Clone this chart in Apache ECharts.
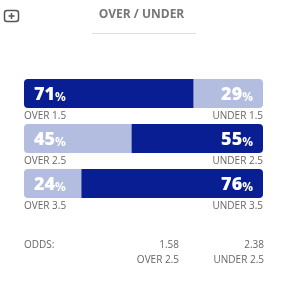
<!DOCTYPE html>
<html>
<head>
<meta charset="utf-8">
<script src="https://cdn.jsdelivr.net/npm/echarts@6/dist/echarts.min.js"></script>
<style>
html,body{margin:0;padding:0;background:#fff;}
#c{width:283px;height:288px;}
</style>
</head>
<body>
<div id="c"></div>
<script>
const categories = ['1.5', '2.5', '3.5'];
const overValues = [71, 45, 24];
const underValues = [29, 55, 76];
const overLabels = ['OVER 1.5', 'OVER 2.5', 'OVER 3.5'];
const underLabels = ['UNDER 1.5', 'UNDER 2.5', 'UNDER 3.5'];
const oddsValues = ['1.58', '2.38'];
const oddsLabels = ['OVER 2.5', 'UNDER 2.5'];

const DARK = '#0a1e93';
const LIGHT = '#b2bddf';
const FONT = '"Open Sans", sans-serif';

const chart = echarts.init(document.getElementById('c'), null, {renderer: 'canvas'});

function pctRich() {
  return {
    v: {fontSize: 18, fontWeight: 800, color: '#fff', fontFamily: FONT, lineHeight: 20, verticalAlign: 'bottom'},
    p: {fontSize: 12, fontWeight: 700, color: '#fff', fontFamily: FONT, lineHeight: 17, verticalAlign: 'bottom'}
  };
}

function colorFor(a, b) { return a > b ? DARK : LIGHT; }

const option = {
  animation: false,
  grid: {left: 24, right: 20, top: 71, bottom: 82},
  xAxis: {type: 'value', min: 0, max: 100, show: false},
  yAxis: {type: 'category', data: categories, inverse: true, show: false},
  series: [
    {
      type: 'bar', stack: 'ou', barWidth: 29,
      data: overValues.map((v, i) => ({
        value: v,
        itemStyle: {color: colorFor(v, underValues[i]), borderRadius: [4, 0, 0, 4]}
      })),
      label: {
        show: true, position: 'insideLeft', distance: 10,
        formatter: p => '{v|' + p.value + '}{p|%}',
        rich: pctRich()
      },
      z: 2
    },
    {
      type: 'bar', stack: 'ou', barWidth: 29,
      data: underValues.map((v, i) => ({
        value: v,
        itemStyle: {color: colorFor(v, overValues[i]), borderRadius: [0, 4, 4, 0]}
      })),
      label: {
        show: true, position: 'insideRight', distance: 10,
        formatter: p => '{v|' + p.value + '}{p|%}',
        rich: pctRich()
      },
      z: 2
    },
    {
      type: 'bar', barWidth: 29, barGap: '-100%', silent: true,
      data: overValues.map((v, i) => v + underValues[i]),
      itemStyle: {color: 'rgba(0,0,0,0)'},
      label: {
        show: true, position: [0, '100%'], align: 'left', verticalAlign: 'top',
        offset: [0, 3],
        formatter: p => overLabels[p.dataIndex],
        fontSize: 10, color: '#666', fontFamily: FONT
      },
      z: 1
    },
    {
      type: 'bar', barWidth: 29, barGap: '-100%', silent: true,
      data: overValues.map((v, i) => v + underValues[i]),
      itemStyle: {color: 'rgba(0,0,0,0)'},
      label: {
        show: true, position: ['100%', '100%'], align: 'right', verticalAlign: 'top',
        offset: [0, 3],
        formatter: p => underLabels[p.dataIndex],
        fontSize: 10, color: '#666', fontFamily: FONT
      },
      z: 1
    }
  ],
  graphic: [
    {type: 'text', left: 'center', top: 9,
     style: {text: 'OVER / UNDER', fontSize: 12, fontWeight: 'bold', fill: '#777', fontFamily: FONT}},
    {type: 'line', shape: {x1: 92, y1: 33.5, x2: 196, y2: 33.5}, style: {stroke: '#ddd', lineWidth: 1}},
    {type: 'rect', shape: {x: 4.5, y: 10.5, width: 14, height: 11, r: 2.5}, style: {fill: 'none', stroke: '#555', lineWidth: 1.5}},
    {type: 'line', shape: {x1: 11.5, y1: 13, x2: 11.5, y2: 19}, style: {stroke: '#555', lineWidth: 1.5}},
    {type: 'line', shape: {x1: 8.5, y1: 16, x2: 14.5, y2: 16}, style: {stroke: '#555', lineWidth: 1.5}},
    {type: 'text', x: 24, y: 240, style: {text: 'ODDS:', fontSize: 10, fill: '#666', fontFamily: FONT}},
    {type: 'text', x: 179, y: 240, style: {text: oddsValues[0], fontSize: 10, fill: '#666', fontFamily: FONT, align: 'right'}},
    {type: 'text', x: 264, y: 240, style: {text: oddsValues[1], fontSize: 10, fill: '#666', fontFamily: FONT, align: 'right'}},
    {type: 'text', x: 179, y: 255, style: {text: oddsLabels[0], fontSize: 10, fill: '#666', fontFamily: FONT, align: 'right'}},
    {type: 'text', x: 264, y: 255, style: {text: oddsLabels[1], fontSize: 10, fill: '#666', fontFamily: FONT, align: 'right'}}
  ]
};
chart.setOption(option);
</script>
</body>
</html>
